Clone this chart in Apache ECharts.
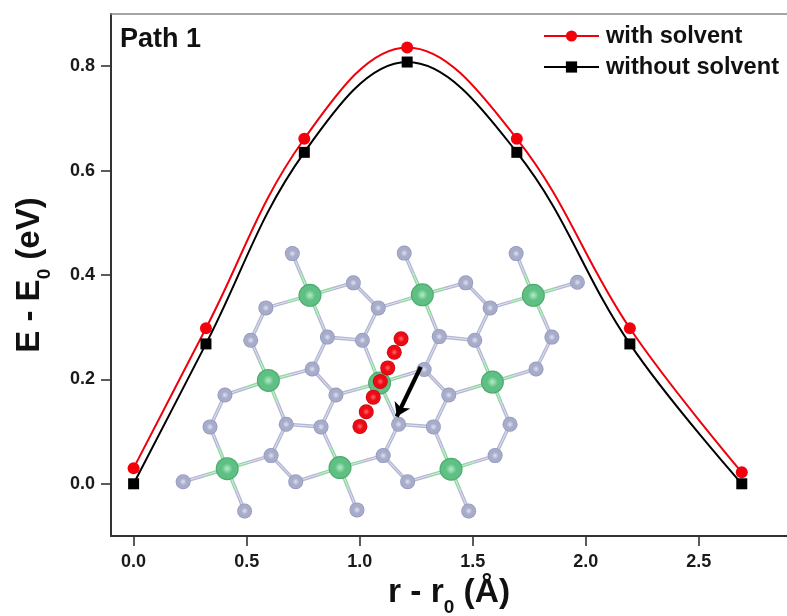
<!DOCTYPE html>
<html><head><meta charset="utf-8">
<style>html,body{margin:0;padding:0;background:#fff}#c{width:787px;height:616px}</style>
<script src="https://cdn.jsdelivr.net/npm/echarts@6/dist/echarts.min.js"></script>
</head><body><div id="c"></div>
<script>
const pathX = [0, 0.32, 0.755, 1.21, 1.695, 2.195, 2.69];
const withSolvent = [0.03, 0.298, 0.661, 0.836, 0.661, 0.298, 0.022];
const withoutSolvent = [0, 0.268, 0.635, 0.808, 0.635, 0.268, 0];
const xTicks = [0, 0.5, 1, 1.5, 2, 2.5];
const yTicks = [0, 0.2, 0.4, 0.6, 0.8];
const seriesNames = ['with solvent', 'without solvent'];

const grayAtoms = [[0.702,0.441],[0.972,0.385],[1.082,0.337],[0.585,0.337],[0.518,0.275],[0.857,0.281],[1.012,0.275],[0.790,0.220],[1.197,0.442],[0.404,0.170],[0.338,0.109],[0.675,0.114],[0.829,0.109],[0.895,0.170],[0.608,0.054],[0.717,0.004],[0.219,0.004],[0.491,-0.052],[0.988,-0.050],[1.104,0.054],[1.172,0.114],[1.212,0.004],[1.469,0.385],[1.577,0.337],[1.352,0.282],[1.509,0.275],[1.285,0.219],[1.394,0.170],[1.326,0.109],[1.599,0.054],[1.665,0.114],[1.780,0.220],[1.850,0.281],[1.963,0.386],[1.692,0.441],[1.482,-0.052]];
const greenAtoms = [[0.780,0.361],[0.596,0.198],[1.277,0.362],[1.768,0.361],[1.088,0.193],[1.587,0.195],[0.414,0.029],[0.913,0.031],[1.404,0.028]];
const redAtoms = [[1.183,0.278],[1.153,0.252],[1.124,0.222],[1.091,0.196],[1.060,0.166],[1.029,0.138],[1.001,0.110]];
const arrowEnds = [[1.270,0.224],[1.164,0.129]];
const bondPairs = ['c0-g0','c0-g1','c0-g3','c0-g5','g1-g2','c2-g2','g2-g6','g3-g4','c1-g4','g5-g6','g5-g7','c4-g6','c1-g7','g7-g13',
 'c1-g9','g9-g10','c6-g10','c6-g16','c6-g17','c6-g14','g14-g11','g14-g15','g11-g12','c1-g11','g12-g13','c7-g12','c4-g13','c7-g15','c7-g18','c7-g19',
 'g19-g20','g19-g21','c4-g20','g20-g28','c8-g21','c8-g28','c8-g29','c8-g35','g29-g30','c5-g30','c5-g27','c5-g31','c5-g25','g31-g32','c3-g32','c3-g33','c3-g34','c3-g23','g23-g22','g23-g25','c2-g22','c2-g8','c2-g24','g24-g25','g24-g26','c4-g26','g26-g27','g27-g28'];

function atom(id){ return (id[0]==='c'?greenAtoms:grayAtoms)[+id.slice(1)]; }
const bondData = bondPairs.map(p=>{ const [a,b]=p.split('-'); const A=atom(a),B=atom(b); return [A[0],A[1],B[0],B[1],a[0]==='c'?1:0]; });

function ball(c0,c1,c2){ return {type:'radial',x:0.5,y:0.5,r:0.52,colorStops:[{offset:0,color:c0},{offset:0.45,color:c1},{offset:0.8,color:c1},{offset:1,color:c2}]}; }
const font = '"Liberation Sans", Arial, sans-serif';

function renderBond(params, api){
  const a = api.coord([api.value(0),api.value(1)]);
  const b = api.coord([api.value(2),api.value(3)]);
  const green = api.value(4)===1;
  const m = [(a[0]+b[0])/2,(a[1]+b[1])/2];
  const seg = (p,q,col,core)=>[
    {type:'line',shape:{x1:p[0],y1:p[1],x2:q[0],y2:q[1]},style:{stroke:col,lineWidth:3.6}},
    {type:'line',shape:{x1:p[0],y1:p[1],x2:q[0],y2:q[1]},style:{stroke:core,lineWidth:0.9}}
  ];
  const children = green
    ? seg(a,m,'#93d3a8','#dcf2e3').concat(seg(m,b,'#b3b7d3','#e8e9f3'))
    : seg(a,b,'#b3b7d3','#e8e9f3');
  return {type:'group',children};
}

const chart = echarts.init(document.getElementById('c'),null,{renderer:'canvas'});
chart.setOption({
  animation:false,
  backgroundColor:'#fff',
  title:{text:'Path 1',left:115,top:21,textStyle:{fontFamily:font,fontSize:27,fontWeight:'bold',color:'#111'}},
  legend:{
    data:seriesNames,orient:'vertical',left:543,top:24,padding:0,itemWidth:55,itemHeight:14,itemGap:7,
    textStyle:{fontFamily:font,fontSize:23.6,fontWeight:'bold',color:'#111',padding:[0,0,0,2]}
  },
  grid:{left:111,right:0,top:14,bottom:80,outerBoundsMode:'none'},
  xAxis:[{
    type:'value',min:-0.1,max:2.89,position:'bottom',
    name:'{a|r - r}{s|0}{a| (Å)}',nameLocation:'middle',nameGap:38,
    nameTextStyle:{rich:{
      a:{fontFamily:font,fontSize:33.5,fontWeight:'bold',color:'#111',verticalAlign:'top'},
      s:{fontFamily:font,fontSize:19,fontWeight:'bold',color:'#111',lineHeight:41,verticalAlign:'bottom'}
    }},
    axisLine:{onZero:false,lineStyle:{color:'#333',width:2}},
    axisTick:{show:true,length:10,lineStyle:{color:'#333',width:1.6},customValues:xTicks},
    axisLabel:{customValues:xTicks,margin:17,fontFamily:font,fontSize:18,fontWeight:'bold',color:'#1a1a1a',formatter:v=>v.toFixed(1)},
    splitLine:{show:false}
  },{
    type:'value',min:-0.1,max:2.89,position:'top',
    axisLine:{onZero:false,lineStyle:{color:'#888',width:1.5}},axisTick:{show:false},axisLabel:{show:false},splitLine:{show:false}
  }],
  yAxis:{
    type:'value',min:-0.1,max:0.9,
    name:'{a|E - E}{s|0}{a| (eV)}',nameLocation:'middle',nameGap:57,nameRotate:90,
    nameTextStyle:{rich:{
      a:{fontFamily:font,fontSize:33,fontWeight:'bold',color:'#111',verticalAlign:'top'},
      s:{fontFamily:font,fontSize:19,fontWeight:'bold',color:'#111',lineHeight:41,verticalAlign:'bottom'}
    }},
    axisLine:{show:true,onZero:false,lineStyle:{color:'#333',width:2}},
    axisTick:{show:true,length:10,lineStyle:{color:'#333',width:1.6},customValues:yTicks},
    axisLabel:{customValues:yTicks,margin:16,fontFamily:font,fontSize:18,fontWeight:'bold',color:'#1a1a1a',formatter:v=>v.toFixed(1)},
    splitLine:{show:false}
  },
  series:[
    {type:'custom',name:'bonds',z:2,silent:true,clip:false,renderItem:renderBond,encode:{x:[0,2],y:[1,3]},data:bondData},
    {type:'scatter',name:'gray',z:3,symbolSize:15,itemStyle:{opacity:1,color:ball('#dfe2f0','#a7accb','#858ab0')},data:grayAtoms},
    {type:'scatter',name:'green',z:4,symbolSize:23,itemStyle:{opacity:1,color:ball('#b5ecc8','#5fc084','#3f9a60')},data:greenAtoms},
    {type:'scatter',name:'red',z:5,symbolSize:15,itemStyle:{opacity:1,color:ball('#ff6a6a','#ee0a14','#a80a0f')},data:redAtoms},
    {type:'lines',name:'arrow',z:6,coordinateSystem:'cartesian2d',polyline:false,symbol:['none','arrow'],symbolSize:13,
      lineStyle:{color:'#000',width:4.2,opacity:1,curveness:0},data:[{coords:arrowEnds}]},
    {type:'line',name:seriesNames[0],z:7,smooth:0.38,symbol:'circle',symbolSize:12,
      lineStyle:{color:'#f0000a',width:2},itemStyle:{color:'#f5000a'},
      data:pathX.map((x,i)=>[x,withSolvent[i]])},
    {type:'line',name:seriesNames[1],z:8,smooth:0.38,symbol:'rect',symbolSize:11,
      lineStyle:{color:'#000',width:2},itemStyle:{color:'#000'},
      data:pathX.map((x,i)=>[x,withoutSolvent[i]])}
  ]
});
</script></body></html>
